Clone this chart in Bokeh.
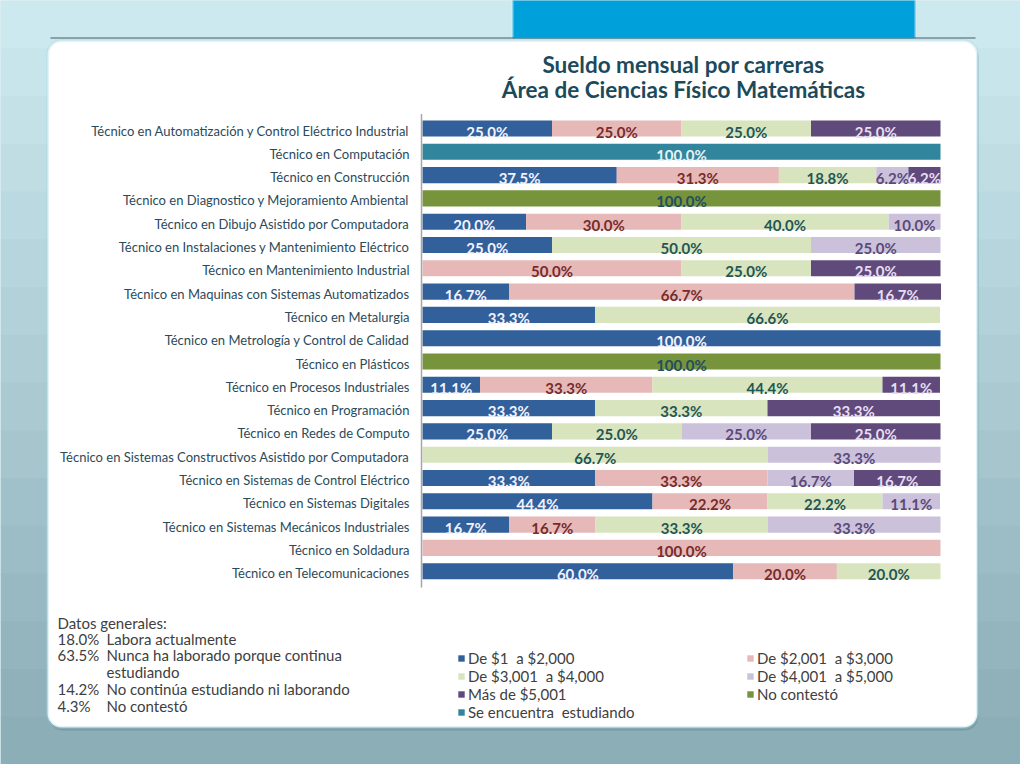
from bokeh.plotting import figure
from bokeh.models import Range1d, Label, BoxAnnotation, Legend, LegendItem, ColumnDataSource
from bokeh.embed import file_html
from bokeh.resources import INLINE
from bokeh.core.properties import value
import numpy as np

categories = [
    "Técnico en Automatización y Control Eléctrico Industrial",
    "Técnico en Computación",
    "Técnico en Construcción",
    "Técnico en Diagnostico y Mejoramiento Ambiental",
    "Técnico en Dibujo Asistido por Computadora",
    "Técnico en Instalaciones y Mantenimiento Eléctrico",
    "Técnico en Mantenimiento Industrial",
    "Técnico en Maquinas con Sistemas Automatizados",
    "Técnico en Metalurgia",
    "Técnico en Metrología y Control de Calidad",
    "Técnico en Plásticos",
    "Técnico en Procesos Industriales",
    "Técnico en Programación",
    "Técnico en Redes de Computo",
    "Técnico en Sistemas Constructivos Asistido por Computadora",
    "Técnico en Sistemas de Control Eléctrico",
    "Técnico en Sistemas Digitales",
    "Técnico en Sistemas Mecánicos Industriales",
    "Técnico en Soldadura",
    "Técnico en Telecomunicaciones",
]

series_names = ["De $1  a $2,000", "De $2,001  a $3,000", "De $3,001  a $4,000",
                "De $4,001  a $5,000", "Más de $5,001", "No contestó",
                "Se encuentra  estudiando"]

s_1_2000    = [25.0, 0, 37.5, 0, 20.0, 25.0, 0, 16.7, 33.3, 100.0, 0, 11.1, 33.3, 25.0, 0, 33.3, 44.4, 16.7, 0, 60.0]
s_2001_3000 = [25.0, 0, 31.3, 0, 30.0, 0, 50.0, 66.7, 0, 0, 0, 33.3, 0, 0, 0, 33.3, 22.2, 16.7, 100.0, 20.0]
s_3001_4000 = [25.0, 0, 18.8, 0, 40.0, 50.0, 25.0, 0, 66.6, 0, 0, 44.4, 33.3, 25.0, 66.7, 0, 22.2, 33.3, 0, 20.0]
s_4001_5000 = [0, 0, 6.2, 0, 10.0, 25.0, 0, 0, 0, 0, 0, 0, 0, 25.0, 33.3, 16.7, 11.1, 33.3, 0, 0]
s_mas_5001  = [25.0, 0, 6.2, 0, 0, 0, 25.0, 16.7, 0, 0, 0, 11.1, 33.3, 25.0, 0, 16.7, 0, 0, 0, 0]
s_no_contesto = [0, 0, 0, 100.0, 0, 0, 0, 0, 0, 0, 100.0, 0, 0, 0, 0, 0, 0, 0, 0, 0]
s_estudiando  = [0, 100.0, 0, 0, 0, 0, 0, 0, 0, 0, 0, 0, 0, 0, 0, 0, 0, 0, 0, 0]

series_values = [s_1_2000, s_2001_3000, s_3001_4000, s_4001_5000, s_mas_5001,
                 s_no_contesto, s_estudiando]

bar_colors = ["#32609A", "#E6B9B8", "#D7E4BD", "#CCC1DA", "#604A7B", "#77933C", "#31859C"]
label_colors = ["#F2F2FF", "#772B2B", "#1F5656", "#5A4A7A", "#E6DDF2", "#1F4E5F", "#E6F2F5"]

title_lines = ["Sueldo mensual por carreras", "Área de Ciencias Físico Matemáticas"]
datos_header = "Datos generales:"
datos_pct = ["18.0%", "63.5%", "", "14.2%", "4.3%"]
datos_txt = ["Labora actualmente", "Nunca ha laborado porque continua", "estudiando",
             "No continúa estudiando ni laborando", "No contestó"]

# ---- geometry: the frame covers the whole canvas -------------------------
W, H = 1020, 764
X0, PX_PER_PCT = 422.0, 5.18      # pixel of 0 % and pixels per percent
Y0, PX_PER_ROW = 128.0, 23.3      # pixel of the first row and row pitch


def dx(px):
    return (px - X0) / PX_PER_PCT


def dy(py):
    return (py - Y0) / PX_PER_ROW


p = figure(width=W, height=H, output_backend="svg", toolbar_location=None,
           x_range=Range1d(dx(0), dx(W)), y_range=Range1d(dy(H), dy(0)),
           x_axis_location=None, y_axis_location=None,
           min_border=0, min_border_left=0, min_border_right=0,
           min_border_top=0, min_border_bottom=0)
p.title.visible = False
p.outline_line_color = None
p.xgrid.visible = False
p.ygrid.visible = False
p.border_fill_color = "#BCDDE6"
p.background_fill_color = "#BCDDE6"


def box(l, r, t, b, **kw):
    p.add_layout(BoxAnnotation(left=dx(l), right=dx(r), top=dy(t), bottom=dy(b),
                               level="underlay", **kw))


# slide background (vertical gradient in bands)
c_top = np.array([0xCD, 0xE9, 0xF0])
c_bot = np.array([0x8C, 0xAE, 0xB7])
nb = 16
for k in range(nb):
    f = k / (nb - 1)
    c = (c_top * (1 - f) + c_bot * f).astype(int)
    box(0, W, H * k / nb, H * (k + 1) / nb + 1,
        fill_color="#%02x%02x%02x" % tuple(c), fill_alpha=1, line_color=None)
box(512, 915, -2, 38, fill_color="#00A0DB", fill_alpha=1,
    line_color="#E2F2F7", line_width=3)
box(50, 975, 37, 38, fill_color="#4A5A60", fill_alpha=1, line_color=None)
box(48, 978, 43, 730, fill_color="#6E8E98", fill_alpha=0.6, line_color=None,
    border_radius=14)
box(47, 977, 40, 727, fill_color="white", fill_alpha=1, line_color="#A0D3E0",
    line_width=3, border_radius=14)

# ---- bars -----------------------------------------------------------------
rows = list(range(len(categories)))
keys = [f"s{i}" for i in range(len(series_values))]
data = {"row": rows}
for k, v in zip(keys, series_values):
    data[k] = v
src = ColumnDataSource(data)
renderers = p.hbar_stack(keys, y="row", height=0.69, color=bar_colors,
                         line_color=None, source=src)

# left axis line (chart floor)
p.segment(x0=[dx(421)], y0=[-0.62], x1=[dx(421)], y1=[len(categories) - 0.3],
          line_color="#A6A6A6", line_width=1.5)

# category labels
p.text(x=[dx(409)] * len(categories), y=rows, text=categories,
       text_align="right", text_baseline="middle", text_font=value("Lato"),
       text_font_size="13px", text_color="#2B4A5A", y_offset=2)

# value labels
arr = np.array(series_values, dtype=float)
cum = np.cumsum(arr, axis=0) - arr
for i in range(arr.shape[0]):
    xs, ys, ts = [], [], []
    for j in rows:
        v = arr[i, j]
        if v > 0:
            xs.append(cum[i, j] + v / 2)
            ys.append(j)
            ts.append(f"{v:.1f}%")
    if xs:
        p.text(x=xs, y=ys, text=ts, text_align="center", text_baseline="middle",
               text_font=value("Lato"), text_font_style="bold",
               text_font_size="15px", text_color=label_colors[i], y_offset=3)

# ---- title ----------------------------------------------------------------
for txt, yr in zip(title_lines, [64, 89]):
    p.add_layout(Label(x=dx(683), y=dy(yr), text=txt, text_align="center",
                       text_baseline="middle", text_font="Lato",
                       text_font_style="bold", text_font_size="22.5px",
                       text_color="#1B4A5C"))

# ---- datos generales ------------------------------------------------------
p.add_layout(Label(x=dx(57), y=dy(622), text=datos_header, text_baseline="middle",
                   text_font="Lato", text_font_size="15px", text_color="#404040"))
for pct, txt, yr in zip(datos_pct, datos_txt, [638, 654, 671, 688, 705]):
    if pct:
        p.add_layout(Label(x=dx(57), y=dy(yr), text=pct, text_baseline="middle",
                           text_font="Lato", text_font_size="15px",
                           text_color="#404040"))
    p.add_layout(Label(x=dx(106), y=dy(yr), text=txt, text_baseline="middle",
                       text_font="Lato", text_font_size="15px",
                       text_color="#404040"))

# ---- legends --------------------------------------------------------------
left_idx = [0, 2, 4, 6]
right_idx = [1, 3, 5]
common = dict(orientation="vertical", glyph_width=8, glyph_height=8,
              label_text_font="Lato", label_text_font_size="15px",
              label_text_color="#404040", background_fill_alpha=0,
              border_line_alpha=0, padding=0, margin=0, spacing=0,
              label_standoff=3, label_height=17)
leg1 = Legend(items=[LegendItem(label=series_names[i], renderers=[renderers[i]])
                     for i in left_idx],
              location=(457, H - 721), **common)
leg2 = Legend(items=[LegendItem(label=series_names[i], renderers=[renderers[i]])
                     for i in right_idx],
              location=(746, H - 703), **common)
p.add_layout(leg1)
p.add_layout(leg2)

open("out.html", "w").write(file_html(p, INLINE))
